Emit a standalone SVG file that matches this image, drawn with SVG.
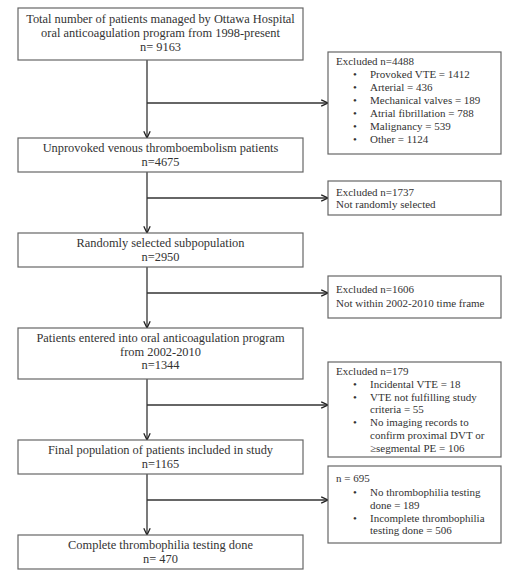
<svg xmlns="http://www.w3.org/2000/svg" width="520" height="580" viewBox="0 0 520 580">
<defs>
<marker id="ah" viewBox="0 0 10 10" refX="9.5" refY="5" markerWidth="8" markerHeight="8" markerUnits="userSpaceOnUse" orient="auto">
<path d="M1,1 L9.5,5 L1,9" fill="none" stroke="#222" stroke-width="1.6"/>
</marker>
<style>
.box{fill:#fff;stroke:#666;stroke-width:1.2}
.t{font-family:"Liberation Serif",serif;font-size:12.4px;fill:#333;text-anchor:middle}
.s{font-family:"Liberation Serif",serif;font-size:11px;fill:#333}
.c{stroke:#333;stroke-width:1.3;fill:none}
</style>
</defs>
<rect width="520" height="580" fill="#fff"/>
<g id="connectors">
<line class="c" x1="147" y1="60" x2="147" y2="138" marker-end="url(#ah)"/>
<line class="c" x1="147" y1="103" x2="328" y2="103" marker-end="url(#ah)"/>
<line class="c" x1="147" y1="172" x2="147" y2="233" marker-end="url(#ah)"/>
<line class="c" x1="147" y1="198" x2="328" y2="198" marker-end="url(#ah)"/>
<line class="c" x1="147" y1="267" x2="147" y2="328" marker-end="url(#ah)"/>
<line class="c" x1="147" y1="293" x2="328" y2="293" marker-end="url(#ah)"/>
<line class="c" x1="147" y1="379" x2="147" y2="440" marker-end="url(#ah)"/>
<line class="c" x1="147" y1="405" x2="328" y2="405" marker-end="url(#ah)"/>
<line class="c" x1="147" y1="474" x2="147" y2="535" marker-end="url(#ah)"/>
<line class="c" x1="147" y1="500" x2="328" y2="500" marker-end="url(#ah)"/>
</g>
<g id="n1">
<rect class="box" x="18" y="8" width="285" height="52"/>
<text class="t" x="160.5" y="23">Total number of patients managed by Ottawa Hospital</text>
<text class="t" x="160.5" y="37">oral anticoagulation program from 1998-present</text>
<text class="t" x="160.5" y="51">n= 9163</text>
</g>
<g id="n2">
<rect class="box" x="18" y="138" width="285" height="34"/>
<text class="t" x="160.5" y="152">Unprovoked venous thromboembolism patients</text>
<text class="t" x="160.5" y="166">n=4675</text>
</g>
<g id="n3">
<rect class="box" x="18" y="233" width="285" height="34"/>
<text class="t" x="160.5" y="247">Randomly selected subpopulation</text>
<text class="t" x="160.5" y="261">n=2950</text>
</g>
<g id="n4">
<rect class="box" x="18" y="328" width="285" height="51"/>
<text class="t" x="160.5" y="342">Patients entered into oral anticoagulation program</text>
<text class="t" x="160.5" y="356">from 2002-2010</text>
<text class="t" x="160.5" y="369">n=1344</text>
</g>
<g id="n5">
<rect class="box" x="18" y="440" width="285" height="34"/>
<text class="t" x="160.5" y="454">Final population of patients included in study</text>
<text class="t" x="160.5" y="468">n=1165</text>
</g>
<g id="n6">
<rect class="box" x="18" y="535" width="285" height="34"/>
<text class="t" x="160.5" y="549">Complete thrombophilia testing done</text>
<text class="t" x="160.5" y="563">n= 470</text>
</g>
<g id="e1">
<rect class="box" x="328" y="52" width="173" height="102"/>
<text class="s" x="336" y="65">Excluded n=4488</text>
<text class="s" x="353" y="78">•</text><text class="s" x="370" y="78">Provoked VTE = 1412</text>
<text class="s" x="353" y="91">•</text><text class="s" x="370" y="91">Arterial = 436</text>
<text class="s" x="353" y="104">•</text><text class="s" x="370" y="104">Mechanical valves = 189</text>
<text class="s" x="353" y="117">•</text><text class="s" x="370" y="117">Atrial fibrillation = 788</text>
<text class="s" x="353" y="130">•</text><text class="s" x="370" y="130">Malignancy = 539</text>
<text class="s" x="353" y="143">•</text><text class="s" x="370" y="143">Other = 1124</text>
</g>
<g id="e2">
<rect class="box" x="328" y="181" width="173" height="34"/>
<text class="s" x="336" y="196">Excluded n=1737</text>
<text class="s" x="336" y="208">Not randomly selected</text>
</g>
<g id="e3">
<rect class="box" x="328" y="276" width="173" height="42"/>
<text class="s" x="336" y="293">Excluded n=1606</text>
<text class="s" x="336" y="307">Not within 2002-2010 time frame</text>
</g>
<g id="e4">
<rect class="box" x="328" y="362" width="173" height="95"/>
<text class="s" x="336" y="375">Excluded n=179</text>
<text class="s" x="353" y="388">•</text><text class="s" x="370" y="388">Incidental VTE = 18</text>
<text class="s" x="353" y="401">•</text><text class="s" x="370" y="401">VTE not fulfilling study</text>
<text class="s" x="370" y="413">criteria = 55</text>
<text class="s" x="353" y="426">•</text><text class="s" x="370" y="426">No imaging records to</text>
<text class="s" x="370" y="439">confirm proximal DVT or</text>
<text class="s" x="370" y="452">≥segmental PE = 106</text>
</g>
<g id="e5">
<rect class="box" x="328" y="466" width="173" height="77"/>
<text class="s" x="336" y="482">n = 695</text>
<text class="s" x="353" y="496">•</text><text class="s" x="370" y="496">No thrombophilia testing</text>
<text class="s" x="370" y="509">done = 189</text>
<text class="s" x="353" y="522">•</text><text class="s" x="370" y="522">Incomplete thrombophilia</text>
<text class="s" x="370" y="534">testing done = 506</text>
</g>
</svg>
